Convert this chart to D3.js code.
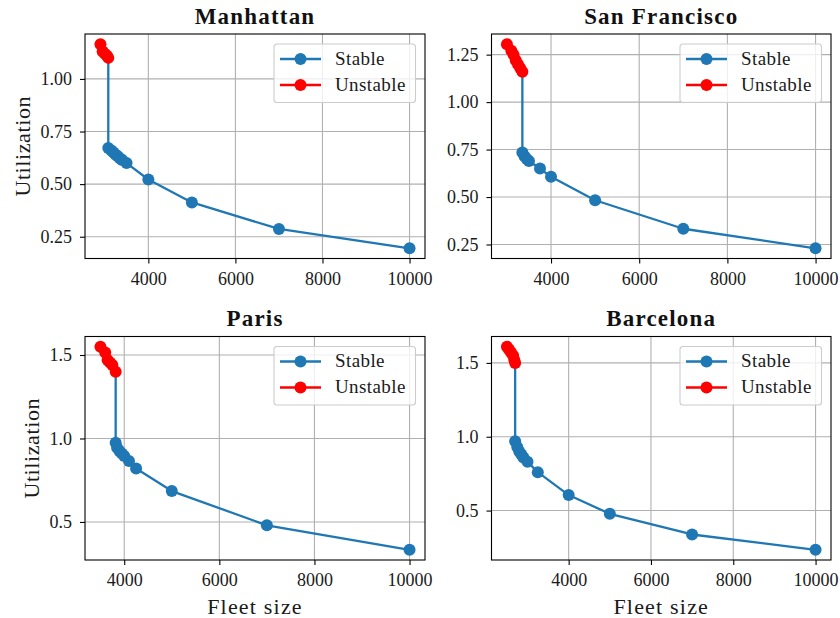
<!DOCTYPE html>
<html>
<head>
<meta charset="utf-8">
<script src="https://cdn.jsdelivr.net/npm/d3@7"></script>
<style>
  html, body { margin: 0; padding: 0; background: #fff; }
  svg { display: block; font-family: "Liberation Serif", "Times New Roman", serif; }
</style>
</head>
<body>
<svg id="chart" width="840" height="618"></svg>
<script>
// ---------------- data ----------------
const cities = ["Manhattan", "San Francisco", "Paris", "Barcelona"];
const seriesNames = ["Stable", "Unstable"];
const xTickValues = [4000, 6000, 8000, 10000];

const manhattanUnstableX = [2900, 2950, 3000, 3050, 3080];
const manhattanUnstableY = [1.165, 1.13, 1.12, 1.11, 1.10];
const manhattanStableX = [3080, 3150, 3200, 3250, 3300, 3350, 3400, 3500, 4000, 5000, 7000, 10000];
const manhattanStableY = [0.672, 0.66, 0.65, 0.64, 0.632, 0.622, 0.615, 0.60, 0.522, 0.413, 0.287, 0.195];
const manhattanYTicks = [0.25, 0.50, 0.75, 1.00];

const sanFranciscoUnstableX = [3000, 3100, 3150, 3200, 3250, 3300, 3350];
const sanFranciscoUnstableY = [1.305, 1.27, 1.25, 1.22, 1.20, 1.18, 1.16];
const sanFranciscoStableX = [3350, 3400, 3450, 3500, 3750, 4000, 5000, 7000, 10000];
const sanFranciscoStableY = [0.735, 0.715, 0.70, 0.69, 0.65, 0.607, 0.483, 0.333, 0.23];
const sanFranciscoYTicks = [0.25, 0.50, 0.75, 1.00, 1.25];

const parisUnstableX = [3500, 3600, 3650, 3700, 3750, 3820];
const parisUnstableY = [1.55, 1.515, 1.47, 1.455, 1.44, 1.40];
const parisStableX = [3820, 3850, 3900, 3950, 4000, 4100, 4250, 5000, 7000, 10000];
const parisStableY = [0.975, 0.945, 0.925, 0.91, 0.895, 0.865, 0.82, 0.685, 0.48, 0.333];
const parisYTicks = [0.5, 1.0, 1.5];

const barcelonaUnstableX = [2500, 2550, 2600, 2650, 2680, 2700];
const barcelonaUnstableY = [1.61, 1.59, 1.57, 1.55, 1.52, 1.50];
const barcelonaStableX = [2700, 2750, 2800, 2850, 2900, 3000, 3250, 4000, 5000, 7000, 10000];
const barcelonaStableY = [0.97, 0.93, 0.90, 0.88, 0.86, 0.83, 0.76, 0.605, 0.478, 0.338, 0.234];
const barcelonaYTicks = [0.5, 1.0, 1.5];

// ---------------- assemble ----------------
const zip = (xs, ys) => xs.map((x, i) => ({x: x, y: ys[i]}));
const panels = [
  {title: cities[0], stable: zip(manhattanStableX, manhattanStableY), unstable: zip(manhattanUnstableX, manhattanUnstableY), yTicks: manhattanYTicks, fmt: ".2f", col: 0, row: 0},
  {title: cities[1], stable: zip(sanFranciscoStableX, sanFranciscoStableY), unstable: zip(sanFranciscoUnstableX, sanFranciscoUnstableY), yTicks: sanFranciscoYTicks, fmt: ".2f", col: 1, row: 0},
  {title: cities[2], stable: zip(parisStableX, parisStableY), unstable: zip(parisUnstableX, parisUnstableY), yTicks: parisYTicks, fmt: ".1f", col: 0, row: 1},
  {title: cities[3], stable: zip(barcelonaStableX, barcelonaStableY), unstable: zip(barcelonaUnstableX, barcelonaUnstableY), yTicks: barcelonaYTicks, fmt: ".1f", col: 1, row: 1}
];

// ---------------- layout ----------------
const colX = [[85, 425], [491.5, 831]];
const rowY = [[34, 258.5], [336.5, 560]];
const BLUE = "#1f77b4", RED = "#ff0000", GRID = "#b0b0b0";

const svg = d3.select("#chart");

function padded(ext) {
  const span = ext[1] - ext[0];
  return [ext[0] - 0.05 * span, ext[1] + 0.05 * span];
}

panels.forEach(p => {
  const [x0, x1] = colX[p.col];
  const [y0, y1] = rowY[p.row];
  const all = p.stable.concat(p.unstable);
  const x = d3.scaleLinear().domain(padded(d3.extent(all, d => d.x))).range([x0, x1]);
  const y = d3.scaleLinear().domain(padded(d3.extent(all, d => d.y))).range([y1, y0]);

  const g = svg.append("g");

  // grid
  g.append("g").selectAll("line").data(xTickValues).join("line")
    .attr("x1", d => x(d)).attr("x2", d => x(d)).attr("y1", y0).attr("y2", y1)
    .attr("stroke", GRID).attr("stroke-width", 1.1);
  g.append("g").selectAll("line").data(p.yTicks).join("line")
    .attr("y1", d => y(d)).attr("y2", d => y(d)).attr("x1", x0).attr("x2", x1)
    .attr("stroke", GRID).attr("stroke-width", 1.1);

  // axes
  const xa = g.append("g").attr("transform", `translate(0,${y1})`)
    .call(d3.axisBottom(x).tickValues(xTickValues).tickFormat(d3.format("d")).tickSize(5).tickPadding(8.5));
  const ya = g.append("g").attr("transform", `translate(${x0},0)`)
    .call(d3.axisLeft(y).tickValues(p.yTicks).tickFormat(d3.format(p.fmt)).tickSize(5).tickPadding(8));
  [xa, ya].forEach(a => {
    a.select(".domain").remove();
    a.selectAll(".tick line").attr("stroke", "#000").attr("stroke-width", 1.1);
    a.selectAll(".tick text").attr("fill", "#1a1a1a")
      .style("font-family", "'Liberation Serif', serif").style("font-size", "18px");
  });

  // lines
  const line = d3.line().x(d => x(d.x)).y(d => y(d.y));
  const stablePath = [p.unstable[p.unstable.length - 1]].concat(p.stable);
  g.append("path").datum(stablePath).attr("d", line)
    .attr("fill", "none").attr("stroke", BLUE).attr("stroke-width", 2.3).attr("stroke-linejoin", "round");
  g.append("g").selectAll("circle").data(p.stable).join("circle")
    .attr("cx", d => x(d.x)).attr("cy", d => y(d.y)).attr("r", 6).attr("fill", BLUE);
  g.append("path").datum(p.unstable).attr("d", line)
    .attr("fill", "none").attr("stroke", RED).attr("stroke-width", 2.3).attr("stroke-linejoin", "round");
  g.append("g").selectAll("circle").data(p.unstable).join("circle")
    .attr("cx", d => x(d.x)).attr("cy", d => y(d.y)).attr("r", 6).attr("fill", RED);

  // frame
  g.append("rect").attr("x", x0).attr("y", y0).attr("width", x1 - x0).attr("height", y1 - y0)
    .attr("fill", "none").attr("stroke", "#000").attr("stroke-width", 1.1);

  // title
  g.append("text").attr("x", (x0 + x1) / 2).attr("y", y0 - 10.5)
    .attr("text-anchor", "middle").style("font-weight", "bold").style("font-size", "23px")
    .style("letter-spacing", "1.2px").attr("fill", "#111").text(p.title);

  // legend
  const lx = x1 - 151, ly = y0 + 10;
  const lg = g.append("g").attr("transform", `translate(${lx},${ly})`);
  lg.append("rect").attr("width", 141.5).attr("height", 58.5).attr("rx", 3)
    .attr("fill", "#fff").attr("fill-opacity", 0.8).attr("stroke", "#cccccc").attr("stroke-width", 1.1);
  [[seriesNames[0], BLUE], [seriesNames[1], RED]].forEach((s, i) => {
    const ry = 15 + i * 26;
    lg.append("line").attr("x1", 6).attr("x2", 47).attr("y1", ry).attr("y2", ry)
      .attr("stroke", s[1]).attr("stroke-width", 2.3);
    lg.append("circle").attr("cx", 26.5).attr("cy", ry).attr("r", 6).attr("fill", s[1]);
    lg.append("text").attr("x", 61).attr("y", ry + 5.8).style("font-size", "19px")
      .style("letter-spacing", "0.4px").attr("fill", "#1a1a1a").text(s[0]);
  });

  // y label (left column only)
  if (p.col === 0) {
    const bb = ya.node().getBBox();
    const lxPos = x0 + bb.x - 11;
    g.append("text").attr("transform", `translate(${lxPos},${(y0 + y1) / 2}) rotate(-90)`)
      .attr("text-anchor", "middle").style("font-size", "22px").style("letter-spacing", "0.6px")
      .attr("fill", "#1a1a1a").text("Utilization");
  }
  // x label (bottom row only)
  if (p.row === 1) {
    g.append("text").attr("x", (x0 + x1) / 2).attr("y", 614)
      .attr("text-anchor", "middle").style("font-size", "22px").style("letter-spacing", "1.2px")
      .attr("fill", "#1a1a1a").text("Fleet size");
  }
});
</script>
</body>
</html>
